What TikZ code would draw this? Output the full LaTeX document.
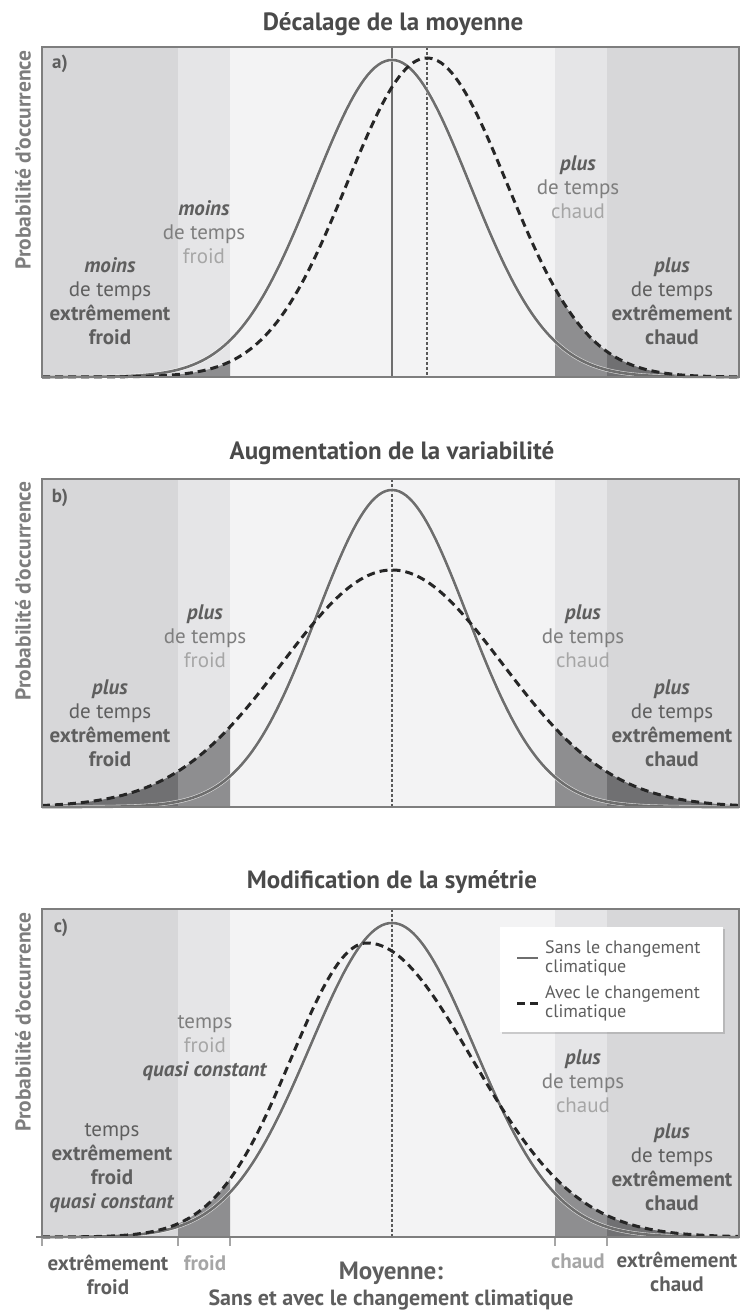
\documentclass[tikz,border=0pt]{standalone}
\usepackage{fontspec}
\setmainfont{PT Sans}
\usetikzlibrary{shadows}
\definecolor{bandout}{HTML}{D7D7D9}
\definecolor{bandin}{HTML}{E5E5E7}
\definecolor{bandmid}{HTML}{F3F3F4}
\definecolor{tailin}{HTML}{8E8E90}
\definecolor{tailout}{HTML}{707072}
\definecolor{framegray}{HTML}{7E7E7E}
\definecolor{curvegray}{HTML}{6E6E6E}
\definecolor{txtdark}{HTML}{5E5E5E}
\definecolor{txtmid}{HTML}{7E7E7E}
\definecolor{txtlight}{HTML}{A6A6A6}
\definecolor{titlegray}{HTML}{4A4A4A}
% colour, from, to, baseline, height, mean, sigma
\newcommand{\tailfill}[7]{%
  \fill[#1] (#2,#4) -- plot[domain=#2:#3,samples=40] (\x,{#4-#5*gauss(\x,#6,#7)}) -- (#3,#4) -- cycle;}
\newcommand{\emphw}[1]{\textbf{\textit{#1}}}

\begin{document}
\begin{tikzpicture}[x=1pt,y=-1pt,
    declare function={gauss(\xx,\mm,\ss)=exp(-min(0.5*((\xx-\mm)/\ss)^2,9));},
    lbl/.style={align=center,inner sep=0pt,text=txtdark,font=\fontsize{21}{24}\selectfont},
    title/.style={inner sep=0pt,text=titlegray,font=\bfseries\fontsize{25}{28}\selectfont},
    ylbl/.style={inner sep=0pt,text=txtmid,rotate=90,anchor=east,font=\bfseries\fontsize{21.5}{24}\selectfont},
    tag/.style={inner sep=0pt,text=txtdark,font=\bfseries\fontsize{19}{22}\selectfont},
    frame/.style={draw=framegray,line width=2pt},
    oldcurve/.style={draw=curvegray,line width=2.6pt,preaction={draw=white,draw opacity=0.7,line width=3.8pt}},
    newcurve/.style={draw=black!85,line width=3pt,dash pattern=on 8pt off 5pt},
    oldmean/.style={draw=curvegray,line width=1.6pt},
    newmean/.style={draw=black!65,line width=1.6pt,dash pattern=on 3pt off 2pt},
    legbox/.style={fill=white,minimum width=223pt,minimum height=105pt,inner sep=0pt,
      drop shadow={opacity=0.35,shadow xshift=2pt,shadow yshift=-2pt}},
    legtxt/.style={align=left,anchor=west,inner sep=0pt,text=txtdark,font=\fontsize{18}{19}\selectfont},
    axlbl/.style={align=center,inner sep=0pt,text=txtdark,font=\bfseries\fontsize{21}{24}\selectfont},
    tick/.style={draw=txtlight,line width=1.2pt}]
  \useasboundingbox (0,0) rectangle (740,1311);
  % bands
  \foreach \top/\bot in {47/377,479/807,909/1237}{
    \fill[bandout] (42,\top) rectangle (178,\bot);
    \fill[bandin] (178,\top) rectangle (230,\bot);
    \fill[bandmid] (230,\top) rectangle (555,\bot);
    \fill[bandin] (555,\top) rectangle (607,\bot);
    \fill[bandout] (607,\top) rectangle (739,\bot);
  }
  % a) shifted mean
  \tailfill{tailin}{178}{230}{377}{319}{427}{80}
  \tailfill{tailin}{555}{607}{377}{319}{427}{80}
  \tailfill{tailout}{607}{739}{377}{319}{427}{80}
  \draw[oldmean] (392,47) -- (392,377);
  \draw[newmean] (427,47) -- (427,377);
  \draw[oldcurve] plot[domain=42:739,samples=200] (\x,{377-317*gauss(\x,392,78)});
  \draw[newcurve] plot[domain=42:739,samples=200] (\x,{377-319*gauss(\x,427,80)});
  % b) wider spread
  \tailfill{tailout}{42}{178}{807}{237}{392}{110}
  \tailfill{tailin}{178}{230}{807}{237}{392}{110}
  \tailfill{tailin}{555}{607}{807}{237}{392}{110}
  \tailfill{tailout}{607}{739}{807}{237}{392}{110}
  \draw[newmean] (392,479) -- (392,807);
  \draw[oldcurve] plot[domain=42:739,samples=200] (\x,{807-317*gauss(\x,392,75)});
  \draw[newcurve] plot[domain=42:739,samples=200] (\x,{807-237*gauss(\x,392,110)});
  % c) skewed
  \tailfill{tailin}{178}{230}{1237}{294}{367}{76}
  \tailfill{tailin}{555}{607}{1237}{294}{367}{105}
  \tailfill{tailout}{607}{739}{1237}{294}{367}{105}
  \draw[newmean] (392,909) -- (392,1237);
  \draw[oldcurve] plot[domain=42:739,samples=200] (\x,{1237-314*gauss(\x,392,82)});
  \draw[newcurve] plot[domain=42:367,samples=120] (\x,{1237-294*gauss(\x,367,76)})
    -- plot[domain=367:739,samples=150] (\x,{1237-294*gauss(\x,367,105)});
  % frames
  \foreach \top/\bot in {47/377,479/807,909/1237}
    \draw[frame] (42,\top) rectangle (739,\bot);
  \draw[frame] (36,1237) -- (42,1237);
  \foreach \tx in {42,178,230,555,607}
    \draw[tick] (\tx,1238) -- (\tx,1246);
  % titles
  \node[title] (ttla) at (393,24) {Décalage de la moyenne};
  \node[title] (ttlb) at (392,453) {Augmentation de la variabilité};
  \node[title] (ttlc) at (392,882) {Modification de la symétrie};
  \node[ylbl] (ya) at (23,50) {Probabilité d’occurrence};
  \node[ylbl] (yb) at (23,481) {Probabilité d’occurrence};
  \node[ylbl] (yc) at (23,912) {Probabilité d’occurrence};
  \node[tag] (taga) at (60,64) {a)};
  \node[tag] (tagb) at (60,498) {b)};
  \node[tag] (tagc) at (61,928) {c)};
  % a) labels
  \node[lbl] (aLo) at (110,301) {\emphw{moins}\\de temps\\\textbf{extrêmement}\\\textbf{froid}};
  \node[lbl] (aLi) at (204,232) {\emphw{moins}\\\textcolor{txtmid}{de temps}\\\textcolor{txtlight}{froid}};
  \node[lbl] (aRi) at (578,187) {\emphw{plus}\\\textcolor{txtmid}{de temps}\\\textcolor{txtlight}{chaud}};
  \node[lbl] (aRo) at (672,301) {\emphw{plus}\\de temps\\\textbf{extrêmement}\\\textbf{chaud}};
  % b) labels
  \node[lbl] (bLi) at (205,636) {\emphw{plus}\\\textcolor{txtmid}{de temps}\\\textcolor{txtlight}{froid}};
  \node[lbl] (bLo) at (110,723) {\emphw{plus}\\de temps\\\textbf{extrêmement}\\\textbf{froid}};
  \node[lbl] (bRi) at (583,636) {\emphw{plus}\\\textcolor{txtmid}{de temps}\\\textcolor{txtlight}{chaud}};
  \node[lbl] (bRo) at (672,723) {\emphw{plus}\\de temps\\\textbf{extrêmement}\\\textbf{chaud}};
  % c) labels
  \node[lbl] (cLi) at (205,1048) {\textcolor{txtmid}{temps}\\\textcolor{txtlight}{froid}\\\emphw{quasi constant}};
  \node[lbl] (cLo) at (112,1168) {temps\\\textbf{extrêmement}\\\textbf{froid}\\\emphw{quasi constant}};
  \node[lbl] (cRi) at (583,1081) {\emphw{plus}\\\textcolor{txtmid}{de temps}\\\textcolor{txtlight}{chaud}};
  \node[lbl] (cRo) at (672,1167) {\emphw{plus}\\de temps\\\textbf{extrêmement}\\\textbf{chaud}};
  % legend
  \node[legbox] (leg) at (611.5,979.5) {};
  \coordinate (sansA) at (517,958);
  \coordinate (sansB) at (538,958);
  \coordinate (avecA) at (517,1003);
  \coordinate (avecB) at (538,1003);
  \draw[draw=curvegray,line width=2.6pt] (sansA) -- (sansB);
  \draw[draw=black!85,line width=3pt,dash pattern=on 8pt off 5pt] (avecA) -- (avecB);
  \node[legtxt] (legSans) at (545,958) {Sans le changement\\climatique};
  \node[legtxt] (legAvec) at (545,1003) {Avec le changement\\climatique};
  % axis labels
  \node[axlbl] (xLo) at (108,1275) {extrêmement\\froid};
  \node[axlbl,text=txtlight] (xLi) at (205,1263) {froid};
  \node[axlbl,text=txtlight] (xRi) at (578,1261) {chaud};
  \node[axlbl] (xRo) at (677,1272) {extrêmement\\chaud};
  \node[axlbl,font=\bfseries\fontsize{25}{28}\selectfont] (moy) at (391,1273) {Moyenne:};
  \node[axlbl,font=\bfseries\fontsize{22}{24}\selectfont] (moyb) at (391,1300) {Sans et avec le changement climatique};
\end{tikzpicture}
\end{document}
